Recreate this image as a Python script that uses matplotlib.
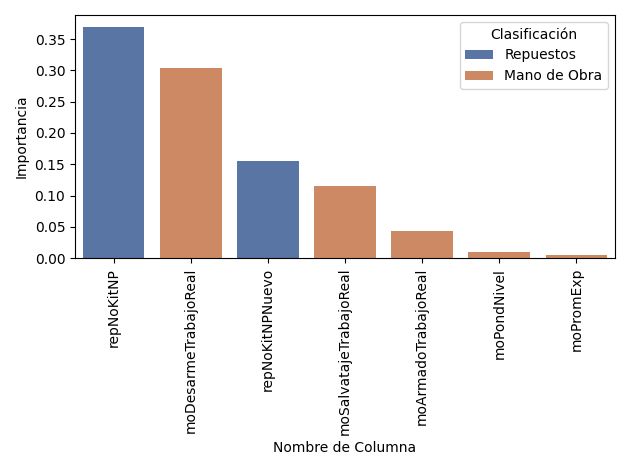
import matplotlib
matplotlib.use("Agg")
import matplotlib.pyplot as plt
import seaborn as sns
import pandas as pd

columnas = ["repNoKitNP", "moDesarmeTrabajoReal", "repNoKitNPNuevo",
            "moSalvatajeTrabajoReal", "moArmadoTrabajoReal", "moPondNivel", "moPromExp"]
importancia = [0.370, 0.304, 0.155, 0.115, 0.043, 0.009, 0.005]
clasificacion = ["Repuestos", "Mano de Obra", "Repuestos",
                 "Mano de Obra", "Mano de Obra", "Mano de Obra", "Mano de Obra"]

df = pd.DataFrame({"Nombre de Columna": columnas,
                   "Importancia": importancia,
                   "Clasificación": clasificacion})

fig, ax = plt.subplots(figsize=(6.3, 4.7), dpi=100)
sns.barplot(data=df, x="Nombre de Columna", y="Importancia", hue="Clasificación",
            hue_order=["Repuestos", "Mano de Obra"], palette="deep", dodge=False, ax=ax)
ax.tick_params(axis="x", rotation=90)
sns.move_legend(ax, "upper right", title="Clasificación")
plt.tight_layout()
plt.savefig("out.png")
plt.close()
